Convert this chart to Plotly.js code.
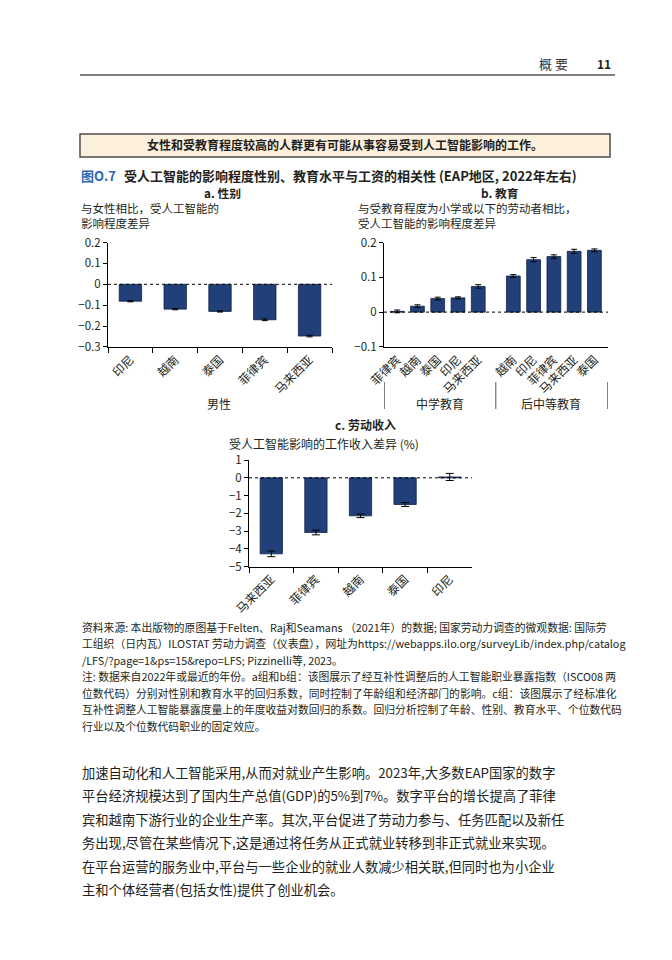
<!DOCTYPE html>
<html><head><meta charset="utf-8">
<script src="https://cdn.plot.ly/plotly-3.0.1.min.js"></script>
<style>html,body{margin:0;padding:0;background:#fff}#chart{width:672px;height:960px}</style>
</head><body><div id="chart"></div>
<script>
// ---------- data ----------
const catsA = ['印尼','越南','泰国','菲律宾','马来西亚'];
const valsA = [-0.081,-0.119,-0.130,-0.170,-0.248];
const errA  = [0.003,0.003,0.003,0.004,0.004];

const groupsB = ['中学教育','后中等教育'];
const catsB1 = ['菲律宾','越南','泰国','印尼','马来西亚'];
const valsB1 = [0.002,0.017,0.039,0.041,0.074];
const errB1  = [0.004,0.004,0.004,0.003,0.005];
const catsB2 = ['越南','印尼','菲律宾','马来西亚','泰国'];
const valsB2 = [0.104,0.151,0.160,0.175,0.178];
const errB2  = [0.004,0.006,0.005,0.006,0.004];

const catsC = ['马来西亚','菲律宾','越南','泰国','印尼'];
const valsC = [-4.28,-3.08,-2.14,-1.50,0.05];
const errC  = [0.16,0.13,0.10,0.11,0.20];

const captionLines = [
  '资料来源: 本出版物的原图基于Felten、Raj和Seamans （2021年）的数据; 国家劳动力调查的微观数据: 国际劳',
  '工组织（日内瓦）ILOSTAT 劳动力调查（仪表盘），网址为https://webapps.ilo.org/surveyLib/index.php/catalog',
  '/LFS/?page=1&ps=15&repo=LFS; Pizzinelli等, 2023。',
  '注: 数据来自2022年或最近的年份。a组和b组：该图展示了经互补性调整后的人工智能职业暴露指数（ISCO08 两',
  '位数代码）分别对性别和教育水平的回归系数，同时控制了年龄组和经济部门的影响。c组：该图展示了经标准化',
  '互补性调整人工智能暴露度量上的年度收益对数回归的系数。回归分析控制了年龄、性别、教育水平、个位数代码',
  '行业以及个位数代码职业的固定效应。'
];
const bodyLines = [
  '加速自动化和人工智能采用,从而对就业产生影响。2023年,大多数EAP国家的数字',
  '平台经济规模达到了国内生产总值(GDP)的5%到7%。数字平台的增长提高了菲律',
  '宾和越南下游行业的企业生产率。其次,平台促进了劳动力参与、任务匹配以及新任',
  '务出现,尽管在某些情况下,这是通过将任务从正式就业转移到非正式就业来实现。',
  '在平台运营的服务业中,平台与一些企业的就业人数减少相关联,但同时也为小企业',
  '主和个体经营者(包括女性)提供了创业机会。'
];

// ---------- style / layout helpers ----------
const FONT = '"Noto Sans CJK SC", "Noto Sans", sans-serif';
const INK = '#231f20';
const BAR = '#213f78';
const EDGE = '#0f2348';
const W = 672, H = 960;
const px = x => x / W, py = y => 1 - y / H;
const GAP = 0.73;

function txt(text, x, y, size, extra) {
  const a = {text: text, x: px(x), y: py(y), xref: 'paper', yref: 'paper', showarrow: false,
    xanchor: 'left', yanchor: 'middle', font: {family: FONT, size: size || 12, color: INK}};
  if (extra) {
    if (extra.color) { a.font.color = extra.color; delete extra.color; }
    Object.assign(a, extra);
  }
  return a;
}

const posB = catsB1.map((_, i) => i).concat(catsB2.map((_, i) => catsB1.length + GAP + i));
const ticksB = catsB1.concat(catsB2);
const valsB = valsB1.concat(valsB2);
const errB = errB1.concat(errB2);
const bLeft = -0.65, bRight = posB[posB.length - 1] + 0.67;
const bMid = (posB[catsB1.length - 1] + posB[catsB1.length]) / 2;

const barStyle = {color: BAR, line: {color: EDGE, width: 0.8}};
const traces = [
  {type: 'bar', x: catsA, y: valsA, xaxis: 'x', yaxis: 'y', width: 0.5, marker: barStyle,
   error_y: {type: 'data', array: errA, color: '#000', thickness: 1, width: 3}, hoverinfo: 'skip'},
  {type: 'bar', x: posB, y: valsB, xaxis: 'x2', yaxis: 'y2', width: 0.68, marker: barStyle,
   error_y: {type: 'data', array: errB, color: '#000', thickness: 1, width: 3}, hoverinfo: 'skip'},
  {type: 'bar', x: catsC, y: valsC, xaxis: 'x3', yaxis: 'y3', width: 0.5, marker: barStyle,
   error_y: {type: 'data', array: errC, color: '#000', thickness: 1, width: 4}, hoverinfo: 'skip'}
];

const axBase = {showline: true, linecolor: '#000', linewidth: 1, showgrid: false, zeroline: false,
  tickfont: {family: FONT, size: 12, color: INK}, tickcolor: '#000', fixedrange: true};
const yBase = Object.assign({}, axBase, {ticks: 'outside', ticklen: 4, tickfont: {family: FONT, size: 11.5, color: INK}});

const layout = {
  width: W, height: H, margin: {l: 0, r: 0, t: 0, b: 0},
  paper_bgcolor: '#fff', plot_bgcolor: 'rgba(0,0,0,0)', showlegend: false,
  font: {family: FONT, color: INK},
  xaxis: Object.assign({}, axBase, {domain: [px(108), px(332)], anchor: 'y', type: 'category',
    range: [-0.5, 4.5], ticks: 'outside', ticklen: 5, tickson: 'boundaries', tickangle: -45}),
  yaxis: Object.assign({}, yBase, {domain: [py(347), py(242.5)], anchor: 'x',
    range: [-0.3005, 0.2005], tick0: 0, dtick: 0.1}),
  xaxis2: Object.assign({}, axBase, {domain: [px(384), px(608)], anchor: 'y2', type: 'linear',
    range: [bLeft, bRight], tickmode: 'array', tickvals: posB, ticktext: ticksB, ticks: '', tickangle: -45}),
  yaxis2: Object.assign({}, yBase, {domain: [py(347), py(242.5)], anchor: 'x2',
    range: [-0.1005, 0.2005], tick0: 0, dtick: 0.1}),
  xaxis3: Object.assign({}, axBase, {domain: [px(249), px(472)], anchor: 'y3', type: 'category',
    range: [-0.5, 4.5], ticks: 'outside', ticklen: 5, tickson: 'boundaries', tickangle: -45}),
  yaxis3: Object.assign({}, yBase, {domain: [py(566.7), py(460)], anchor: 'x3',
    range: [-5.005, 1.005], tick0: 0, dtick: 1}),
  shapes: [
    {type: 'line', xref: 'paper', yref: 'paper', x0: px(80), x1: px(615), y0: py(75), y1: py(75),
     line: {color: '#555', width: 1.5}},
    {type: 'rect', xref: 'paper', yref: 'paper', x0: px(80), x1: px(610), y0: py(157), y1: py(134),
     fillcolor: '#fcefdc', line: {color: '#4d4d4d', width: 1.5}, layer: 'below'},
    {type: 'line', xref: 'x domain', yref: 'y', x0: 0, x1: 1, y0: 0, y1: 0, line: {color: '#000', width: 1, dash: '3px,3px'}},
    {type: 'line', xref: 'x2 domain', yref: 'y2', x0: 0, x1: 1, y0: 0, y1: 0, line: {color: '#000', width: 1, dash: '3px,3px'}},
    {type: 'line', xref: 'x3 domain', yref: 'y3', x0: 0, x1: 1, y0: 0, y1: 0, line: {color: '#000', width: 1, dash: '3px,3px'}},
    {type: 'line', xref: 'x2', yref: 'paper', x0: bLeft, x1: bLeft, y0: py(382), y1: py(409), line: {color: '#000', width: 1}},
    {type: 'line', xref: 'x2', yref: 'paper', x0: bMid, x1: bMid, y0: py(382), y1: py(409), line: {color: '#555', width: 1}},
    {type: 'line', xref: 'x2', yref: 'paper', x0: bRight, x1: bRight, y0: py(382), y1: py(409), line: {color: '#000', width: 1}}
  ],
  annotations: [
    txt('概 要', 553, 63, 13, {xanchor: 'center', color: '#333'}),
    txt('<b>11</b>', 613, 63, 12, {xanchor: 'right'}),
    txt('<b>女性和受教育程度较高的人群更有可能从事容易受到人工智能影响的工作。</b>', 345, 145, 12, {xanchor: 'center'}),
    txt('<b>图O.7</b>', 80, 186, 13, {color: '#2a69b0', yanchor: 'bottom', borderpad: 0}),
    txt('<b>受人工智能的影响程度性别、教育水平与工资的相关性 (EAP地区, 2022年左右)</b>', 123, 186, 13, {yanchor: 'bottom', borderpad: 0}),
    txt('<b>a. 性别</b>', 222, 202, 11.8, {xanchor: 'center', yanchor: 'bottom', borderpad: 0}),
    txt('与女性相比，受人工智能的<br>影响程度差异', 80, 232, 11.5, {yanchor: 'bottom', align: 'left', borderpad: 0}),
    txt('<b>b. 教育</b>', 500, 202, 11.8, {xanchor: 'center', yanchor: 'bottom', borderpad: 0}),
    txt('与受教育程度为小学或以下的劳动者相比，<br>受人工智能的影响程度差异', 357, 232, 11.5, {yanchor: 'bottom', align: 'left', borderpad: 0}),
    txt('男性', 219, 403, 12, {xanchor: 'center'}),
    txt(groupsB[0], 440, 403, 12, {xanchor: 'center'}),
    txt(groupsB[1], 551, 403, 12, {xanchor: 'center'}),
    txt('<b>c. 劳动收入</b>', 366, 425, 12, {xanchor: 'center'}),
    txt('受人工智能影响的工作收入差异 (%)', 324, 443, 12, {xanchor: 'center'})
  ]
};

const capY0 = 626.5, capStep = 16.5;
captionLines.forEach((l, i) => layout.annotations.push(txt(l, 80, capY0 + i * capStep, 10.8)));
const bodyY0 = 772, bodyStep = 23.5;
bodyLines.forEach((l, i) => layout.annotations.push(txt(l, 80, bodyY0 + i * bodyStep, 13.3)));

Plotly.newPlot('chart', traces, layout, {staticPlot: true, displayModeBar: false});
</script>
</body></html>
